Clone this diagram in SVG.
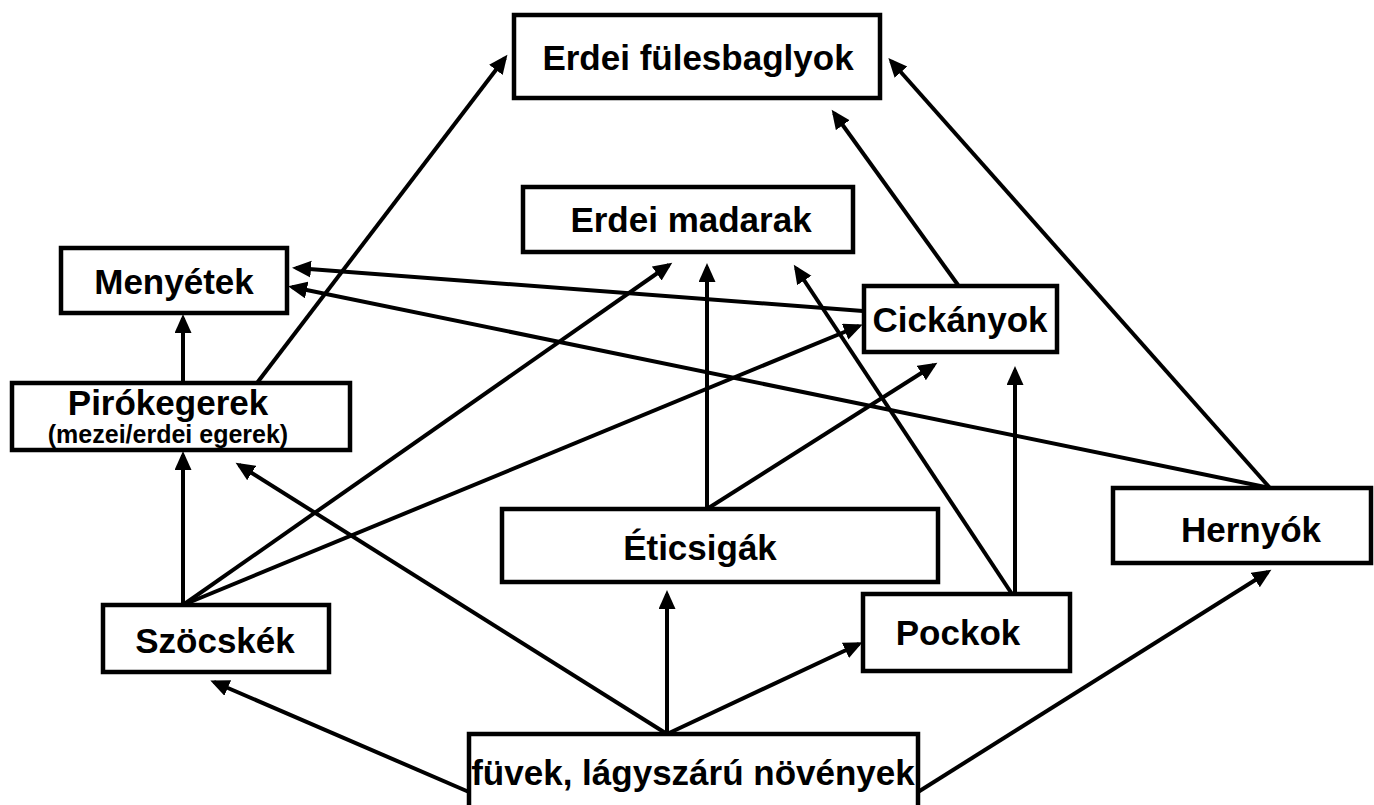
<svg xmlns="http://www.w3.org/2000/svg" width="1374" height="805" viewBox="0 0 1374 805">
<style>
.box{fill:#fff;stroke:#000;stroke-width:4.5}
.t{font-family:"Liberation Sans",Arial,sans-serif;font-weight:bold;font-size:35px;fill:#000;text-anchor:middle}
.s{font-size:25px}
.c line{stroke:#000;stroke-width:4;marker-end:url(#ah)}
</style>
<defs>
<marker id="ah" markerUnits="userSpaceOnUse" markerWidth="20" markerHeight="18" refX="15" refY="8.5" orient="auto">
<path d="M0,0 L19,8.5 L0,17 Z" fill="#000"/>
</marker>
</defs>
<rect width="1374" height="805" fill="#fff"/>
<g class="c" id="connectors">
<line x1="257" y1="383" x2="505" y2="58"/>
<line x1="183" y1="383" x2="183" y2="318"/>
<line x1="183" y1="605" x2="183" y2="455"/>
<line x1="183" y1="605" x2="669" y2="265"/>
<line x1="183" y1="605" x2="859" y2="326"/>
<line x1="863" y1="311" x2="296" y2="268"/>
<line x1="1270" y1="488" x2="292" y2="287"/>
<line x1="1270" y1="488" x2="891" y2="61"/>
<line x1="958" y1="285" x2="834" y2="113"/>
<line x1="707" y1="509" x2="707" y2="267"/>
<line x1="707" y1="509" x2="934" y2="365"/>
<line x1="1012" y1="594" x2="796" y2="268"/>
<line x1="1015" y1="594" x2="1015" y2="370"/>
<line x1="469" y1="792" x2="214" y2="682"/>
<line x1="667" y1="734" x2="239" y2="465"/>
<line x1="667" y1="734" x2="667" y2="594"/>
<line x1="667" y1="734" x2="859" y2="644"/>
<line x1="918" y1="792" x2="1268" y2="572"/>
</g>
<g id="n-fulesbagoly"><rect class="box" x="514" y="15" width="366" height="83"/><text class="t" x="698" y="70">Erdei fülesbaglyok</text></g>
<g id="n-madarak"><rect class="box" x="523" y="187" width="330" height="65"/><text class="t" x="691" y="232">Erdei madarak</text></g>
<g id="n-menyetek"><rect class="box" x="61" y="248" width="226" height="65"/><text class="t" x="174" y="294">Menyétek</text></g>
<g id="n-cickanyok"><rect class="box" x="864" y="286" width="193" height="66"/><text class="t" x="960" y="332">Cickányok</text></g>
<g id="n-pirokegerek"><rect class="box" x="12" y="383" width="338" height="67"/><text class="t" x="168" y="415">Pirókegerek</text><text class="t s" x="168" y="443">(mezei/erdei egerek)</text></g>
<g id="n-eticsigak"><rect class="box" x="502" y="509" width="436" height="73"/><text class="t" x="700" y="560">Éticsigák</text></g>
<g id="n-hernyok"><rect class="box" x="1113" y="488" width="258" height="75"/><text class="t" x="1251" y="542">Hernyók</text></g>
<g id="n-szocskek"><rect class="box" x="103" y="605" width="226" height="67"/><text class="t" x="215" y="653">Szöcskék</text></g>
<g id="n-pockok"><rect class="box" x="863" y="594" width="207" height="77"/><text class="t" x="958" y="645">Pockok</text></g>
<g id="n-fuvek"><rect class="box" x="469" y="734" width="449" height="80"/><text class="t" x="693" y="785">füvek, lágyszárú növények</text></g>
</svg>
